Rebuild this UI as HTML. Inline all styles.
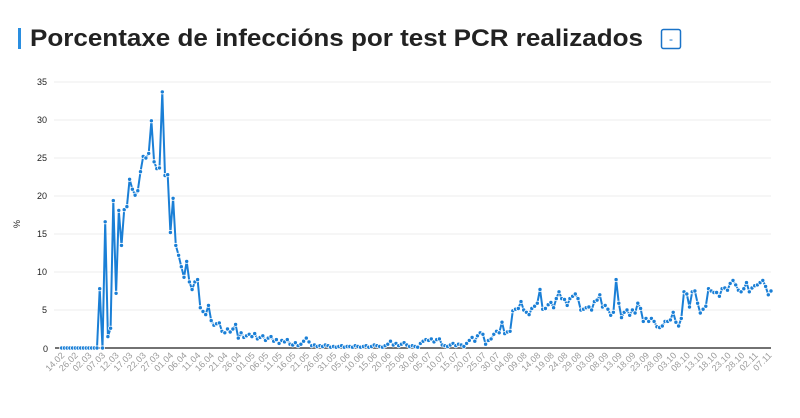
<!DOCTYPE html>
<html><head><meta charset="utf-8"><style>
html,body{margin:0;padding:0;background:#fff;width:800px;height:418px;overflow:hidden}
svg{display:block;font-family:"Liberation Sans",sans-serif}
.xl{font-size:9px;fill:#9a9a9a;text-anchor:end}
.yl{font-size:9px;fill:#222;text-anchor:end}
</style></head><body>
<svg id="s" width="800" height="418" viewBox="0 0 800 418" xmlns="http://www.w3.org/2000/svg">
<rect x="18" y="28" width="3" height="21" fill="#2a8ee0"/>
<text x="30" y="46" font-size="24" font-weight="bold" fill="#222" textLength="613" lengthAdjust="spacingAndGlyphs">Porcentaxe de infeccións por test PCR realizados</text>
<rect x="661.5" y="29.5" width="19" height="19" rx="2" fill="none" stroke="#1a73c8" stroke-width="1.5"/>
<text x="671" y="43" font-size="12" fill="#1a73c8" text-anchor="middle">-</text>
<text transform="translate(20,224) rotate(-90)" font-size="9" fill="#222" text-anchor="middle">%</text>
<g stroke="#ececec" stroke-width="1">
<line x1="54" x2="771" y1="82" y2="82"/><line x1="54" x2="771" y1="120" y2="120"/>
<line x1="54" x2="771" y1="158" y2="158"/><line x1="54" x2="771" y1="196" y2="196"/>
<line x1="54" x2="771" y1="234" y2="234"/><line x1="54" x2="771" y1="272" y2="272"/>
<line x1="54" x2="771" y1="310" y2="310"/></g>
<line x1="55" x2="771" y1="348" y2="348" stroke="#444" stroke-width="1.5"/>
<text class="yl" x="47" y="85">35</text><text class="yl" x="47" y="123">30</text>
<text class="yl" x="47" y="161">25</text><text class="yl" x="47" y="199">20</text>
<text class="yl" x="47" y="237">15</text><text class="yl" x="47" y="275">10</text>
<text class="yl" x="47" y="313">5</text><text class="yl" x="48" y="352" font-size="11">0</text>
<g id="xl"></g>
<g class="xl">
<text transform="translate(65,356) rotate(-45)">14.02</text>
<text transform="translate(78.6,356) rotate(-45)">26.02</text>
<text transform="translate(92.2,356) rotate(-45)">02.03</text>
<text transform="translate(105.8,356) rotate(-45)">07.03</text>
<text transform="translate(119.4,356) rotate(-45)">12.03</text>
<text transform="translate(133,356) rotate(-45)">17.03</text>
<text transform="translate(146.6,356) rotate(-45)">22.03</text>
<text transform="translate(160.2,356) rotate(-45)">27.03</text>
<text transform="translate(173.8,356) rotate(-45)">01.04</text>
<text transform="translate(187.4,356) rotate(-45)">06.04</text>
<text transform="translate(201,356) rotate(-45)">11.04</text>
<text transform="translate(214.6,356) rotate(-45)">16.04</text>
<text transform="translate(228.2,356) rotate(-45)">21.04</text>
<text transform="translate(241.8,356) rotate(-45)">26.04</text>
<text transform="translate(255.4,356) rotate(-45)">01.05</text>
<text transform="translate(269,356) rotate(-45)">06.05</text>
<text transform="translate(282.6,356) rotate(-45)">11.05</text>
<text transform="translate(296.2,356) rotate(-45)">16.05</text>
<text transform="translate(309.8,356) rotate(-45)">21.05</text>
<text transform="translate(323.4,356) rotate(-45)">26.05</text>
<text transform="translate(337,356) rotate(-45)">31.05</text>
<text transform="translate(350.6,356) rotate(-45)">05.06</text>
<text transform="translate(364.2,356) rotate(-45)">10.06</text>
<text transform="translate(377.8,356) rotate(-45)">15.06</text>
<text transform="translate(391.4,356) rotate(-45)">20.06</text>
<text transform="translate(405,356) rotate(-45)">25.06</text>
<text transform="translate(418.6,356) rotate(-45)">30.06</text>
<text transform="translate(432.2,356) rotate(-45)">05.07</text>
<text transform="translate(445.8,356) rotate(-45)">10.07</text>
<text transform="translate(459.4,356) rotate(-45)">15.07</text>
<text transform="translate(473,356) rotate(-45)">20.07</text>
<text transform="translate(486.6,356) rotate(-45)">25.07</text>
<text transform="translate(500.2,356) rotate(-45)">30.07</text>
<text transform="translate(513.8,356) rotate(-45)">04.08</text>
<text transform="translate(527.4,356) rotate(-45)">09.08</text>
<text transform="translate(541,356) rotate(-45)">14.08</text>
<text transform="translate(554.6,356) rotate(-45)">19.08</text>
<text transform="translate(568.2,356) rotate(-45)">24.08</text>
<text transform="translate(581.8,356) rotate(-45)">29.08</text>
<text transform="translate(595.4,356) rotate(-45)">03.09</text>
<text transform="translate(609,356) rotate(-45)">08.09</text>
<text transform="translate(622.6,356) rotate(-45)">13.09</text>
<text transform="translate(636.2,356) rotate(-45)">18.09</text>
<text transform="translate(649.8,356) rotate(-45)">23.09</text>
<text transform="translate(663.4,356) rotate(-45)">28.09</text>
<text transform="translate(677,356) rotate(-45)">03.10</text>
<text transform="translate(690.6,356) rotate(-45)">08.10</text>
<text transform="translate(704.2,356) rotate(-45)">13.10</text>
<text transform="translate(717.8,356) rotate(-45)">18.10</text>
<text transform="translate(731.4,356) rotate(-45)">23.10</text>
<text transform="translate(745,356) rotate(-45)">28.10</text>
<text transform="translate(758.6,356) rotate(-45)">02.11</text>
<text transform="translate(772.2,356) rotate(-45)">07.11</text>
</g>
<path id="ln" fill="none" stroke="#1a7fd6" stroke-width="2" stroke-linejoin="round"/>
<g id="pts" fill="#1a7fd6" stroke="#fff" stroke-width="0.8"></g>
</svg>
<script>
var d=[0,0,0,0,0,0,0,0,0,0,0,0,0,0,
7.8,0,16.6,1.5,2.6,19.4,7.2,18.1,13.5,18.2,18.6,22.2,20.9,20.1,20.7,23.2,25.2,25,25.6,29.9,24.5,23.6,23.7,33.7,22.7,22.8,15.2,19.7,13.5,12.2,10.7,9.3,11.4,8.7,7.7,8.7,9,5.3,4.8,4.4,5.6,3.6,3,3.2,3.3,2.2,2,2.5,2.1,2.5,3.1,1.3,2,1.4,1.6,
1.8,1.5,1.9,1.2,1.4,1.6,1.0,1.3,1.5,0.9,1.1,
0.6,1.0,0.8,1.1,0.5,0.4,0.7,0.3,0.5,0.9,
1.3,0.8,0.3,0.4,0.2,0.3,0.2,0.4,0.3,0.1,
0.2,0.1,0.2,0.3,0.1,0.2,0.2,0.1,0.3,0.2,
0.1,0.2,0.3,0.1,0.2,0.4,0.3,0.2,0.1,0.3,
0.5,0.9,0.4,0.6,0.3,0.5,0.7,0.4,0.2,0.3,
0.2,0.1,0.6,0.9,1.1,1.0,1.2,0.8,1.1,1.2,
0.4,0.3,0.2,0.4,0.6,0.3,0.5,0.4,0.2,0.6,
1.0,1.4,0.9,1.6,
2.0,1.8,0.5,1.0,1.2,1.8,2.2,2.0,3.4,1.9,2.1,2.2,4.9,5.1,5.2,6.1,5,4.7,4.4,5.2,5.5,5.9,7.7,5.1,5.2,5.7,6,5.3,6.5,7.4,6.5,6.4,5.6,6.5,6.8,7.1,6.5,5,5.1,5.3,5.4,5,6.1,6.3,7,5.4,5.6,5.1,4.3,4.7,9.0,5.9,4.0,4.7,5.0,4.3,5,4.6,5.9,5.2,3.5,3.9,3.5,3.9,3.5,2.8,2.7,2.9,3.5,3.5,3.7,4.7,3.4,2.9,3.9,7.4,7.1,5.4,7.4,7.5,5.9,4.6,5.1,5.5,7.8,7.5,7.3,7.3,6.8,7.8,7.9,7.6,8.5,8.9,8.3,7.6,7.4,7.8,8.6,7.4,7.9,8.2,8.3,8.6,8.9,8.1,7.0,7.5];
var step=(771-61.7)/(d.length-1),p="",g="";
for(var i=0;i<d.length;i++){var x=(61.7+i*step).toFixed(1),y=(348-d[i]*7.6).toFixed(1);
p+=(i?"L":"M")+x+","+y;g+='<circle cx="'+x+'" cy="'+y+'" r="2.1"/>';}
document.getElementById("ln").setAttribute("d",p);
document.getElementById("pts").innerHTML=g;
</script>
</body></html>
